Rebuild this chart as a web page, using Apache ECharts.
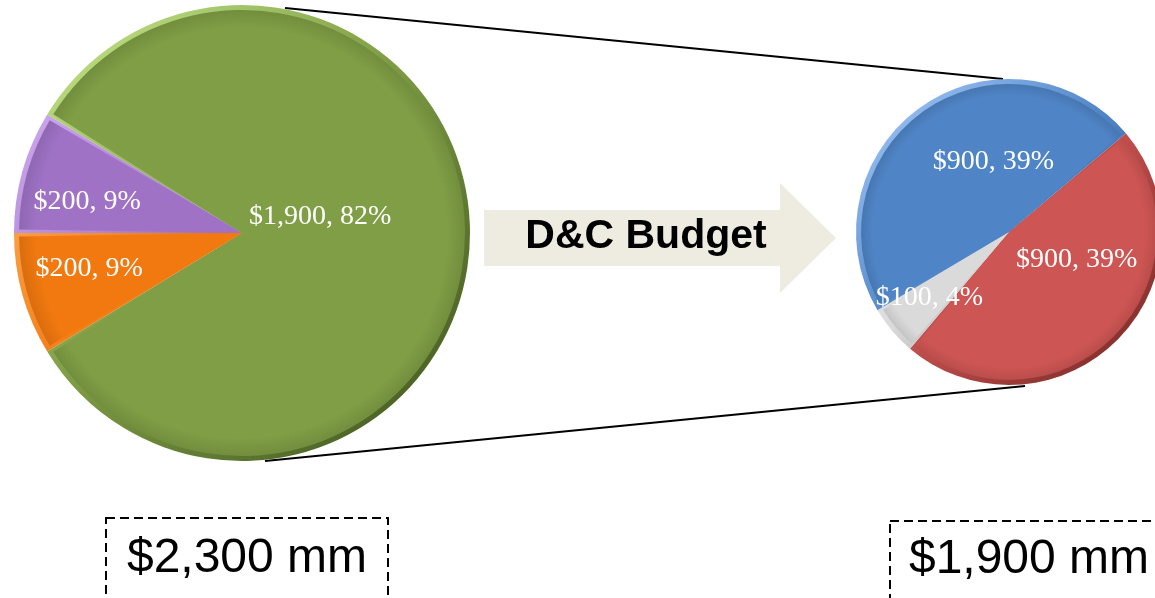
<!DOCTYPE html>
<html>
<head>
<meta charset="utf-8">
<script src="https://cdn.jsdelivr.net/npm/echarts@6/dist/echarts.min.js"></script>
<style>
  html, body { margin: 0; padding: 0; background: #ffffff; }
  #chart { width: 1155px; height: 598px; }
</style>
</head>
<body>
<div id="chart"></div>
<script>
// Overall budget ($ mm) and the D&C slice broken into its parts
const budgetCategories = ['Category A', 'D&C', 'Category B'];
const budgetValues = [200, 1900, 200];

const dcCategories = ['Component 1', 'Component 2', 'Component 3'];
const dcValues = [900, 100, 900];

const budgetTotal = budgetValues.reduce((a, b) => a + b, 0);
const dcTotal = dcValues.reduce((a, b) => a + b, 0);

// Slice styling: [base, light edge, dark edge]
const budgetColors = [
  ['#9F72C6', '#CDA8EE', '#5C3D7A'],
  ['#7F9E45', '#B9DA7E', '#4B6225'],
  ['#F2790F', '#FFB362', '#9E4A04']
];
const dcColors = [
  ['#CD5553', '#F3958F', '#86302D'],
  ['#DADADA', '#FFFFFF', '#7E7E7E'],
  ['#4F84C6', '#92BBEE', '#2A4F80']
];

// Pie geometry
const leftPie = { cx: 242, cy: 233, r: 228, start: 180 };
const rightPie = { cx: 1009, cy: 232, r: 153, start: 40.2 };

// Label placement as [angle in degrees, fraction of radius]
const leftLabelSpots = [[168.7, 0.693], [11.6, 0.35], [193.2, 0.689]];
const rightLabelSpots = [[-22.2, 0.478], [-140.5, 0.675], [102.4, 0.473]];

const money = v => '$' + v.toLocaleString('en-US');

function shade(hex, f) {
  const n = parseInt(hex.slice(1), 16);
  const ch = [(n >> 16) & 255, (n >> 8) & 255, n & 255].map(v => Math.round(v * f));
  return 'rgb(' + ch.join(',') + ')';
}

function edgeGradient(p, c) {
  const k = p.r * 0.75;
  return {
    type: 'linear', global: true,
    x: p.cx - k, y: p.cy - k, x2: p.cx + k, y2: p.cy + k,
    colorStops: [
      { offset: 0, color: c[1] },
      { offset: 0.45, color: c[0] },
      { offset: 1, color: c[2] }
    ]
  };
}

function faceGradient(p, c, inner) {
  return {
    type: 'radial', global: true,
    x: p.cx, y: p.cy, r: inner,
    colorStops: [
      { offset: 0, color: c[0] },
      { offset: 0.92, color: c[0] },
      { offset: 1, color: shade(c[0], 0.9) }
    ]
  };
}

function baseLayer(p, names, values, colors) {
  return {
    type: 'pie', silent: true, z: 1,
    center: [p.cx, p.cy], radius: p.r,
    startAngle: p.start, clockwise: true,
    label: { show: false }, labelLine: { show: false },
    emphasis: { disabled: true },
    data: values.map((v, i) => ({
      name: names[i], value: v,
      itemStyle: { color: edgeGradient(p, colors[i]) }
    }))
  };
}

function faceLayer(p, names, values, colors, formatter) {
  const inner = p.r - 5;
  return {
    type: 'pie', z: 2,
    center: [p.cx, p.cy], radius: inner,
    startAngle: p.start, clockwise: true,
    padAngle: 1.8,
    percentPrecision: 0,
    emphasis: { disabled: true },
    labelLine: { show: false },
    label: {
      show: true, position: 'inside',
      color: '#ffffff',
      fontFamily: 'Liberation Serif',
      fontSize: 28,
      formatter: formatter
    },
    data: values.map((v, i) => ({
      name: names[i], value: v,
      itemStyle: { color: faceGradient(p, colors[i], inner) }
    }))
  };
}

function spotLayout(p, spots) {
  return function (params) {
    const s = spots[params.dataIndex];
    const a = s[0] * Math.PI / 180;
    return {
      x: p.cx + Math.cos(a) * s[1] * p.r,
      y: p.cy - Math.sin(a) * s[1] * p.r,
      align: 'center',
      verticalAlign: 'middle'
    };
  };
}

const leftFace = faceLayer(leftPie, budgetCategories, budgetValues, budgetColors,
  params => money(params.value) + ', ' + params.percent + '%');
leftFace.labelLayout = spotLayout(leftPie, leftLabelSpots);

// D&C parts are shown as a share of the whole budget
const rightFace = faceLayer(rightPie, dcCategories, dcValues, dcColors,
  params => money(params.value) + ', ' + Math.round(params.value / budgetTotal * 100) + '%');
rightFace.labelLayout = spotLayout(rightPie, rightLabelSpots);

const chart = echarts.init(document.getElementById('chart'), null, { renderer: 'canvas' });

chart.setOption({
  animation: false,
  backgroundColor: '#ffffff',
  series: [
    baseLayer(leftPie, budgetCategories, budgetValues, budgetColors),
    leftFace,
    baseLayer(rightPie, dcCategories, dcValues, dcColors),
    rightFace
  ],
  graphic: [
    // connector lines between the two pies
    {
      type: 'line', z: 0,
      shape: { x1: 285, y1: 8, x2: 1003, y2: 79 },
      style: { stroke: '#000000', lineWidth: 2 }
    },
    {
      type: 'line', z: 0,
      shape: { x1: 265, y1: 461, x2: 1025, y2: 386 },
      style: { stroke: '#000000', lineWidth: 2 }
    },
    // arrow
    {
      type: 'polygon', z: 0,
      shape: {
        points: [[484, 210], [780, 210], [780, 183], [836, 238], [780, 293], [780, 266], [484, 266]]
      },
      style: { fill: '#EEECE1' }
    },
    {
      type: 'text', z: 5,
      x: 646, y: 237,
      style: {
        text: 'D&C Budget',
        fill: '#000000',
        font: 'bold 41px "Liberation Sans", Arial, sans-serif',
        align: 'center', verticalAlign: 'middle'
      }
    },
    // totals
    {
      type: 'rect', z: 0,
      shape: { x: 106, y: 518, width: 282, height: 120 },
      style: { fill: 'none', stroke: '#000000', lineWidth: 2, lineDash: [9, 5] }
    },
    {
      type: 'text', z: 5,
      x: 247, y: 559,
      style: {
        text: money(budgetTotal) + ' mm',
        fill: '#000000',
        font: '48px "Liberation Sans", Arial, sans-serif',
        align: 'center', verticalAlign: 'middle'
      }
    },
    {
      type: 'rect', z: 0,
      shape: { x: 890, y: 521, width: 320, height: 120 },
      style: { fill: 'none', stroke: '#000000', lineWidth: 2, lineDash: [9, 5] }
    },
    {
      type: 'text', z: 5,
      x: 1029, y: 560,
      style: {
        text: money(dcTotal) + ' mm',
        fill: '#000000',
        font: '48px "Liberation Sans", Arial, sans-serif',
        align: 'center', verticalAlign: 'middle'
      }
    }
  ]
});
</script>
</body>
</html>
